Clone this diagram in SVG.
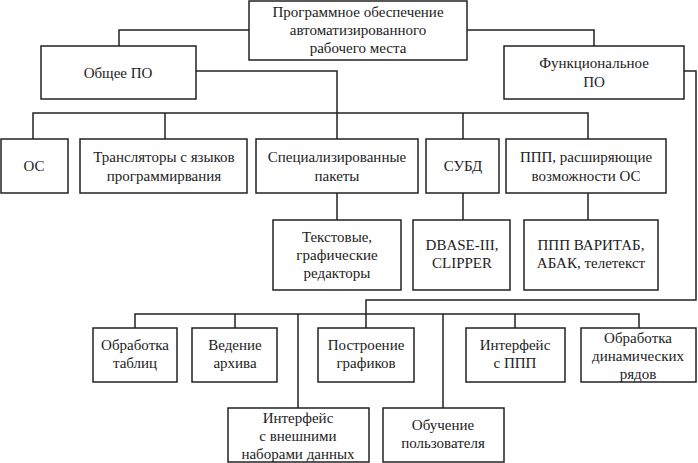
<svg xmlns="http://www.w3.org/2000/svg" width="698" height="463" viewBox="0 0 698 463">
<style>
rect{fill:#fff;stroke:#222;stroke-width:1.5}
path{fill:none;stroke:#222;stroke-width:1.5}
text{font-family:'Liberation Serif','DejaVu Serif Condensed','DejaVu Serif',serif;font-size:15px;fill:#222;text-anchor:middle}
</style>
<rect x="0" y="0" width="698" height="463" style="stroke:none"/>
<g id="connectors">
<path d="M249 30H119V46M467 30H594V46"/>
<path d="M196 71H337V113M33 139V113H588V139M165 113V139M463 113V139M337 113V139"/>
<path d="M337 193V220M463 193V220M588 193V220"/>
<path d="M684 71H696V300H366V314M135 328V314H639V328M235 314V328M515 314V328M366 314V328M298 314V408M443 314V408"/>
</g>
<g id="root"><rect x="249" y="1" width="218" height="59"/><text x="358" y="17">Программное обеспечение</text><text x="358" y="35">автоматизированного</text><text x="358" y="53">рабочего места</text></g>
<g id="general"><rect x="41" y="46" width="155" height="53"/><text x="118" y="78">Общее ПО</text></g>
<g id="functional"><rect x="504" y="46" width="180" height="53"/><text x="594" y="68">Функциональное</text><text x="594" y="87">ПО</text></g>
<g id="os"><rect x="1" y="139" width="67" height="54"/><text x="34" y="171">ОС</text></g>
<g id="translators"><rect x="80" y="139" width="167" height="54"/><text x="164" y="162">Трансляторы с языков</text><text x="164" y="181">программирвания</text></g>
<g id="special"><rect x="256" y="139" width="162" height="54"/><text x="337" y="162">Специализированные</text><text x="337" y="181">пакеты</text></g>
<g id="dbms"><rect x="426" y="139" width="73" height="54"/><text x="463" y="171">СУБД</text></g>
<g id="ppp"><rect x="506" y="139" width="160" height="54"/><text x="586" y="162">ППП, расширяющие</text><text x="586" y="181">возможности ОС</text></g>
<g id="editors"><rect x="273" y="220" width="128" height="70"/><text x="337" y="242">Текстовые,</text><text x="337" y="260">графические</text><text x="337" y="278">редакторы</text></g>
<g id="dbase"><rect x="413" y="220" width="97" height="70"/><text x="462" y="250">DBASE-III,</text><text x="462" y="268">CLIPPER</text></g>
<g id="varitab"><rect x="524" y="220" width="134" height="70"/><text x="591" y="250">ППП ВАРИТАБ,</text><text x="591" y="268">АБАК, телетекст</text></g>
<g id="tables"><rect x="93" y="328" width="84" height="54"/><text x="135" y="350">Обработка</text><text x="135" y="368">таблиц</text></g>
<g id="archive"><rect x="192" y="328" width="85" height="54"/><text x="235" y="350">Ведение</text><text x="235" y="368">архива</text></g>
<g id="graphs"><rect x="318" y="328" width="96" height="54"/><text x="366" y="350">Построение</text><text x="366" y="368">графиков</text></g>
<g id="pppif"><rect x="466" y="328" width="99" height="54"/><text x="515" y="350">Интерфейс</text><text x="515" y="368">с ППП</text></g>
<g id="dyn"><rect x="581" y="328" width="115" height="54"/><text x="638" y="343">Обработка</text><text x="638" y="361">динамических</text><text x="638" y="379">рядов</text></g>
<g id="extif"><rect x="228" y="408" width="141" height="54"/><text x="298" y="423">Интерфейс</text><text x="298" y="441">с внешними</text><text x="298" y="459">наборами данных</text></g>
<g id="training"><rect x="383" y="408" width="121" height="54"/><text x="443" y="430">Обучение</text><text x="443" y="448">пользователя</text></g>
</svg>
